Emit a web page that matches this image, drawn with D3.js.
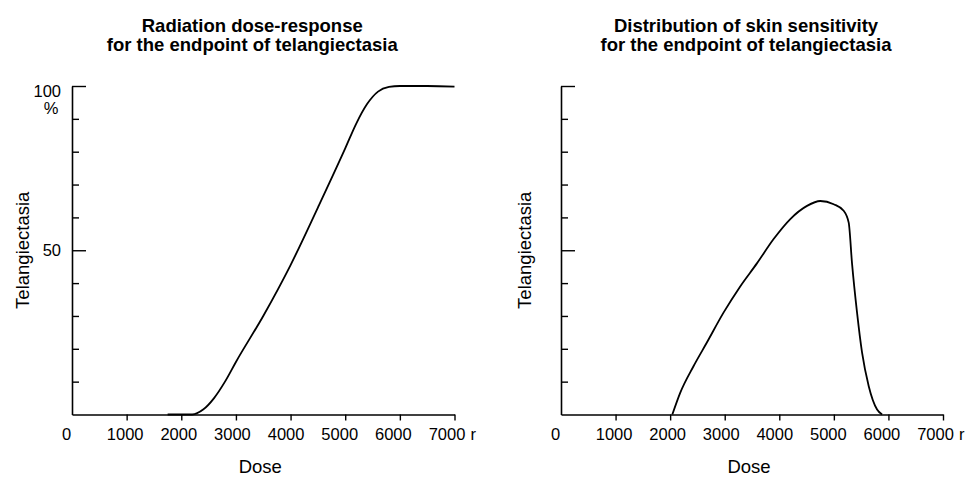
<!DOCTYPE html>
<html lang="en">
    <head>
        <title>Telangiectasia dose-response</title>
        <meta charset="utf-8">
        <script src="https://d3js.org/d3.v7.min.js"></script>
        <style>
            body {
                margin: 0;
                padding: 0;
                background-color: white;
                font-family: "Liberation Sans", Arial, Helvetica, sans-serif;
            }
            svg text {
                fill: black;
            }
        </style>
    </head>
    <body>
    <div id="container"></div>
    <script>
        // values
        const xTicks = [0, 1000, 2000, 3000, 4000, 5000, 6000, 7000];
        const yTicks = [10, 20, 30, 40, 50, 60, 70, 80, 90, 100];

        // left panel: dose-response curve (dose in r, % telangiectasia)
        const responseDose = [1750, 2200, 2400, 2600, 2800, 3000, 3500, 4000, 4500, 5000, 5200, 5400, 5600, 5800, 6000, 6500, 7000];
        const responsePct = [0, 0, 1.5, 5, 10, 16, 30, 45.5, 63, 81, 88.5, 94.5, 98.3, 99.7, 100, 100, 99.8];

        // right panel: distribution of skin sensitivity
        const sensDose = [2040, 2184, 2428, 2673, 2978, 3284, 3590, 3896, 4202, 4508, 4752, 4997, 5180, 5272, 5333, 5425, 5517, 5639, 5792, 5884];
        const sensPct = [0, 6.6, 14.7, 21.9, 31, 39, 46, 53.4, 59.5, 63.5, 65, 64, 62, 58.4, 46, 31, 18.8, 8.6, 1.5, 0];

        const w = 968;
        const h = 477;

        const svg = d3.select("#container")
            .append("svg")
            .attr("width", w)
            .attr("height", h);

        const drawPanel = (opts) => {
            const x = d3.scaleLinear().domain([0, 7000]).range([opts.left, opts.right]);
            const y = d3.scaleLinear().domain([0, 100]).range([opts.bottom, opts.top]);
            const mid = (opts.left + opts.right) / 2;

            // title
            const title = svg.append("text")
                .attr("x", mid + opts.titleShift)
                .attr("y", 32)
                .attr("text-anchor", "middle")
                .attr("font-size", 18.5)
                .attr("font-weight", "bold");
            title.append("tspan").attr("x", mid + opts.titleShift).text(opts.title[0]);
            title.append("tspan").attr("x", mid + opts.titleShift).attr("dy", 19).text(opts.title[1]);

            // x axis
            const xAxis = d3.axisBottom(x)
                .tickValues(xTicks)
                .tickSizeInner(6)
                .tickSizeOuter(0)
                .tickPadding(8)
                .tickFormat(d3.format("d"));

            const gx = svg.append("g")
                .attr("transform", `translate(0, ${opts.bottom})`)
                .call(xAxis);
            gx.select(".domain").attr("stroke-width", 1.6);
            gx.selectAll(".tick line").attr("stroke-width", 1.4)
                .filter(d => d === 0).remove();
            gx.selectAll(".tick text")
                .attr("font-size", 16.5)
                .attr("font-family", "Liberation Sans, Arial, sans-serif")
                .attr("dx", d => d === 0 ? -6 : -d / 1000 - 1);

            svg.append("text")
                .attr("x", x(7000) + 16)
                .attr("y", opts.bottom + 14)
                .attr("dy", "0.71em")
                .attr("font-size", 16.5)
                .text("r");

            svg.append("text")
                .attr("x", mid - 3)
                .attr("y", 473)
                .attr("text-anchor", "middle")
                .attr("font-size", 18.5)
                .text("Dose");

            // y axis, ticks pointing inward
            const yAxis = d3.axisLeft(y)
                .tickValues(yTicks)
                .tickSizeInner(-7)
                .tickSizeOuter(0)
                .tickPadding(11)
                .tickFormat(d => (opts.showLabels && (d === 50 || d === 100)) ? d : "");

            const gy = svg.append("g")
                .attr("transform", `translate(${opts.left}, 0)`)
                .call(yAxis);
            gy.select(".domain").attr("stroke-width", 1.6);
            gy.selectAll(".tick line").attr("stroke-width", 1.4)
                .filter(d => d === 50 || d === 100)
                .attr("x2", 14);
            gy.selectAll(".tick text")
                .attr("font-size", 16.5)
                .attr("font-family", "Liberation Sans, Arial, sans-serif")
                .filter(d => d === 100)
                .attr("dy", "0.71em")
                .attr("y", -1);

            if (opts.showLabels) {
                svg.append("text")
                    .attr("x", opts.left - 21)
                    .attr("y", y(100) + 28)
                    .attr("text-anchor", "middle")
                    .attr("font-size", 16.5)
                    .text("%");
            }

            svg.append("text")
                .attr("transform", `translate(${opts.left - opts.ylabelGap}, ${(opts.top + opts.bottom) / 2}) rotate(-90)`)
                .attr("text-anchor", "middle")
                .attr("font-size", 18.5)
                .text("Telangiectasia");

            // curve
            const line = d3.line()
                .x((d, i) => x(opts.dose[i]))
                .y(d => y(d))
                .curve(d3.curveMonotoneX);

            svg.append("path")
                .datum(opts.pct)
                .attr("fill", "none")
                .attr("stroke", "black")
                .attr("stroke-width", 1.8)
                .attr("d", line);
        };

        drawPanel({
            left: 72, right: 454.5, top: 86, bottom: 414.5,
            title: ["Radiation dose-response", "for the endpoint of telangiectasia"],
            titleShift: -11,
            ylabelGap: 43,
            showLabels: true,
            dose: responseDose, pct: responsePct
        });

        drawPanel({
            left: 561, right: 943, top: 86, bottom: 414.5,
            title: ["Distribution of skin sensitivity", "for the endpoint of telangiectasia"],
            titleShift: -6,
            ylabelGap: 30,
            showLabels: false,
            dose: sensDose, pct: sensPct
        });
    </script>
    </body>
</html>
